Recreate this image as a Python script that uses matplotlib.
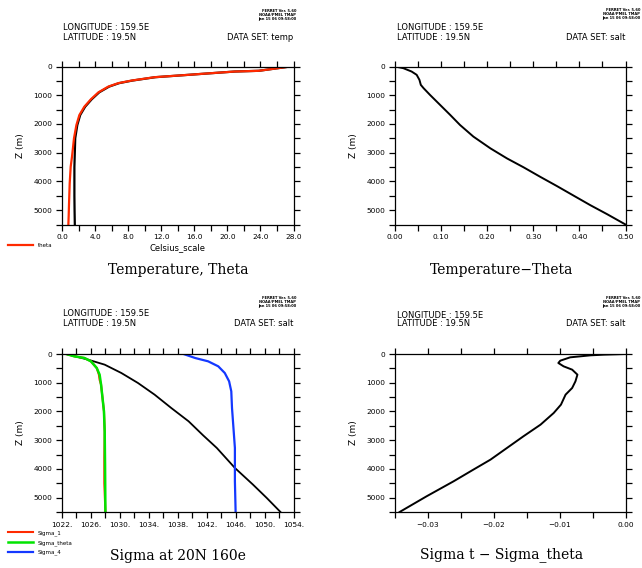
import matplotlib
matplotlib.use("Agg")
import matplotlib.pyplot as plt
from matplotlib.ticker import MultipleLocator, FixedLocator, FixedFormatter

# ---------------- data ----------------
# Panel 1: Temperature and Theta (deg C) vs depth (m)
temp_depth = [0, 150, 175, 290, 372, 490, 580, 700, 900, 1140, 1400, 1690, 2040,
              2500, 3000, 3500, 4000, 4500, 5000, 5500]
temp_vals = [27.6, 23.8, 20.9, 15.3, 11.3, 8.5, 6.9, 5.7, 4.5, 3.6, 2.8, 2.2, 1.85,
             1.6, 1.55, 1.5, 1.5, 1.5, 1.52, 1.55]
theta_depth = [0, 150, 175, 256, 290, 372, 490, 580, 700, 900, 1140, 1400, 1690,
               2040, 2500, 3140, 3490, 4070, 4770, 5180, 5500]
theta_vals = [27.6, 23.8, 20.9, 16.9, 15.3, 11.2, 8.4, 6.8, 5.6, 4.4, 3.5, 2.7, 2.1,
              1.74, 1.45, 1.21, 1.05, 0.93, 0.85, 0.81, 0.77]

# Panel 2: Temperature - Theta
diff_depth = [0, 58, 175, 290, 465, 640, 755, 990, 1340, 1690, 2035, 2440, 2850,
              3200, 3510, 3840, 4160, 4500, 4830, 5140, 5500]
diff_vals = [0.0, 0.018, 0.036, 0.047, 0.053, 0.056, 0.062, 0.076, 0.098, 0.12, 0.141,
             0.17, 0.207, 0.243, 0.279, 0.315, 0.351, 0.388, 0.424, 0.46, 0.5]

# Panel 3: densities
rho_depth = [0, 197, 371, 661, 1009, 1415, 1879, 2343, 2830, 3271, 3967, 4547, 5011, 5500]
rho_vals = [1022.6, 1025.6, 1027.9, 1030.2, 1032.5, 1034.8, 1037.1, 1039.5, 1041.5,
            1043.4, 1045.9, 1048.4, 1050.3, 1052.2]
sth_depth = [0, 81, 139, 255, 487, 719, 1067, 1531, 1995, 2700, 3850, 5500]
sth_vals = [1022.6, 1023.7, 1025.1, 1026.0, 1026.8, 1027.2, 1027.4, 1027.6, 1027.8,
            1027.9, 1027.95, 1028.0]
s1_depth = [0, 81, 139, 255, 487, 719, 900, 1067, 1531, 1995, 2700, 3600, 4500, 5500]
s1_vals = [1022.6, 1023.7, 1025.1, 1026.0, 1026.8, 1027.1, 1027.2, 1027.4, 1027.6,
           1027.8, 1027.9, 1027.85, 1027.85, 1028.0]
s4_depth = [0, 139, 255, 429, 661, 951, 1299, 1879, 2575, 3271, 4431, 5500]
s4_vals = [1038.8, 1040.4, 1042.2, 1043.6, 1044.5, 1045.1, 1045.4, 1045.5, 1045.7,
           1045.9, 1045.9, 1046.0]

# Panel 4: Sigma_t - Sigma_theta
dsig_depth = [0, 10, 23, 46, 116, 232, 313, 429, 545, 719, 951, 1183, 1415, 1763, 2053,
              2459, 2865, 3271, 3677, 4025, 4431, 4953, 5500]
dsig_vals = [0.0, -0.0013, -0.0033, -0.0053, -0.0084, -0.0099, -0.0102, -0.0094, -0.0081,
             -0.0073, -0.0076, -0.0081, -0.0091, -0.0098, -0.0109, -0.0129, -0.0155,
             -0.018, -0.0205, -0.0231, -0.0261, -0.0302, -0.0343]

ytick_vals = [0, 1000, 2000, 3000, 4000, 5000]
sigma_ticks = [1022, 1026, 1030, 1034, 1038, 1042, 1046, 1050, 1054]

W, H = 642, 568
fig = plt.figure(figsize=(W / 100, H / 100), dpi=100)
fig.patch.set_facecolor("white")

RED = "#ff2a00"
GREEN = "#00e400"
BLUE = "#1438ff"


def fx(px):
    return px / W


def fy(py):
    return 1 - py / H


def make_ax(left, top, right, bottom):
    ax = fig.add_axes([fx(left), fy(bottom), (right - left) / W, (bottom - top) / H])
    ax.set_ylim(5500, 0)
    ax.yaxis.set_major_locator(FixedLocator(ytick_vals))
    ax.yaxis.set_minor_locator(MultipleLocator(500))
    ax.tick_params(which="both", direction="out", length=4, width=0.9,
                   top=True, right=True, labelsize=5.3, pad=3, colors="black")
    for s in ax.spines.values():
        s.set_linewidth(0.9)
    ax.set_ylabel("Z (m)", fontsize=6.5, labelpad=6)
    return ax


def header(x_left, x_right, y_top, dataset):
    fig.text(fx(x_left), fy(y_top), "LONGITUDE : 159.5E", fontsize=6, va="center", ha="left")
    fig.text(fx(x_left), fy(y_top + 9), "LATITUDE : 19.5N", fontsize=6, va="center", ha="left")
    fig.text(fx(x_right), fy(y_top + 9), "DATA SET: " + dataset, fontsize=6,
             va="center", ha="right")


def ferret(x_right, y_top):
    fig.text(fx(x_right), fy(y_top), "FERRET Ver. 5.60\nNOAA/PMEL TMAP\nJan 15 06 09:58:00",
             fontsize=2.6, ha="right", va="top", fontweight="bold", linespacing=1.0)


serif = dict(family="DejaVu Serif", fontsize=10)

# ---- Panel 1
ax1 = make_ax(62, 66.5, 293.5, 224.5)
ax1.plot(temp_vals, temp_depth, color="black", lw=1.6)
l_theta, = ax1.plot(theta_vals, theta_depth, color=RED, lw=1.6, label="theta")
ax1.set_xlim(0, 28)
ax1.xaxis.set_major_locator(MultipleLocator(4))
ax1.xaxis.set_minor_locator(MultipleLocator(2))
ax1.xaxis.set_major_formatter(matplotlib.ticker.FormatStrFormatter("%.1f"))
ax1.set_xlabel("Celsius_scale", fontsize=6, labelpad=2)
header(63, 293, 28, "temp")
ferret(296, 9)
fig.text(fx(178), fy(270), "Temperature, Theta", ha="center", va="center", **serif)
fig.legend(handles=[l_theta], loc="upper left", bbox_to_anchor=(fx(8), fy(243)),
           frameon=False, fontsize=4, handlelength=4.5, handletextpad=0.8,
           borderpad=0, borderaxespad=0)

# ---- Panel 2
ax2 = make_ax(395, 66.5, 625.5, 224.5)
ax2.plot(diff_vals, diff_depth, color="black", lw=1.4)
ax2.set_xlim(0, 0.5)
ax2.xaxis.set_major_locator(MultipleLocator(0.1))
ax2.xaxis.set_minor_locator(MultipleLocator(0.05))
ax2.xaxis.set_major_formatter(matplotlib.ticker.FormatStrFormatter("%.2f"))
header(397, 625, 28, "salt")
ferret(640, 8)
fig.text(fx(502), fy(270), "Temperature\u2212Theta", ha="center", va="center", **serif)

# ---- Panel 3
ax3 = make_ax(62, 354, 293.5, 512)
ax3.plot(rho_vals, rho_depth, color="black", lw=1.3)
l1, = ax3.plot(s1_vals, s1_depth, color=RED, lw=1.5, label="Sigma_1")
l2, = ax3.plot(sth_vals, sth_depth, color=GREEN, lw=1.8, label="Sigma_theta")
l3, = ax3.plot(s4_vals, s4_depth, color=BLUE, lw=1.6, label="Sigma_4")
ax3.set_xlim(1022, 1054)
ax3.xaxis.set_major_locator(FixedLocator(sigma_ticks))
ax3.xaxis.set_minor_locator(MultipleLocator(2))
ax3.xaxis.set_major_formatter(matplotlib.ticker.FormatStrFormatter("%d."))
header(63, 293, 314, "salt")
ferret(296, 296)
fig.text(fx(178), fy(556), "Sigma at 20N 160e", ha="center", va="center", **serif)
fig.legend(handles=[l1, l2, l3], loc="upper left", bbox_to_anchor=(fx(8), fy(530)),
           frameon=False, fontsize=4, handlelength=4.5, handletextpad=0.8,
           borderpad=0, borderaxespad=0, labelspacing=0.75)

# ---- Panel 4
ax4 = make_ax(395, 354, 625.5, 512)
ax4.plot(dsig_vals, dsig_depth, color="black", lw=1.4)
ax4.set_xlim(-0.035, 0.0)
ax4.xaxis.set_major_locator(FixedLocator([-0.03, -0.02, -0.01, 0.0]))
ax4.xaxis.set_major_formatter(FixedFormatter(["\u22120.03", "\u22120.02", "\u22120.01", "0.00"]))
ax4.xaxis.set_minor_locator(MultipleLocator(0.005))
header(397, 625, 315, "salt")
ferret(640, 296)
fig.text(fx(502), fy(555), "Sigma t \u2212 Sigma_theta", ha="center", va="center", **serif)

fig.savefig("out.png", dpi=100)
